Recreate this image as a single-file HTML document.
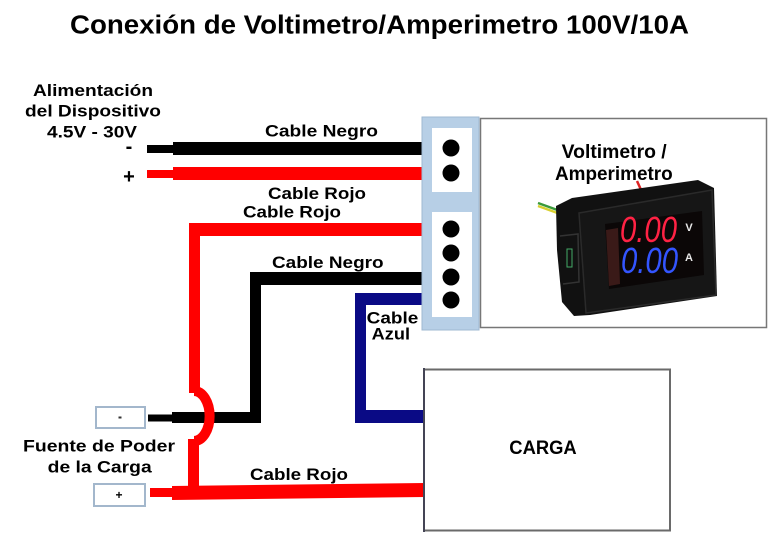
<!DOCTYPE html>
<html><head><meta charset="utf-8"><style>
html,body{margin:0;padding:0;background:#fff;}
svg{display:block;}
text{font-family:"Liberation Sans",Arial,sans-serif;font-weight:bold;fill:#000;}
</style></head><body>
<svg width="784" height="534" viewBox="0 0 784 534" xmlns="http://www.w3.org/2000/svg">
<rect width="784" height="534" fill="#fff"/>

<!-- Title -->
<text x="70" y="33.5" font-size="25.5" textLength="619" lengthAdjust="spacingAndGlyphs">Conexión de Voltimetro/Amperimetro 100V/10A</text>

<!-- Alimentacion labels -->
<text x="33" y="96" font-size="17" textLength="120" lengthAdjust="spacingAndGlyphs">Alimentación</text>
<text x="25" y="116.7" font-size="17" textLength="136" lengthAdjust="spacingAndGlyphs">del Dispositivo</text>
<text x="47" y="137.5" font-size="17" textLength="90" lengthAdjust="spacingAndGlyphs">4.5V - 30V</text>
<text x="129" y="153" font-size="20" text-anchor="middle">-</text>
<text x="129" y="183" font-size="20" text-anchor="middle">+</text>

<!-- Top wires -->
<rect x="147" y="145" width="28" height="8" fill="#000"/>
<rect x="173" y="142" width="270" height="13" fill="#000"/>
<rect x="147" y="170" width="28" height="8" fill="#f00"/>
<rect x="173" y="167" width="270" height="13" fill="#f00"/>

<!-- Black wire 2 -->
<rect x="250" y="272" width="193" height="13" fill="#000"/>
<rect x="250" y="272" width="11" height="151" fill="#000"/>
<rect x="172" y="412" width="89" height="11" fill="#000"/>
<rect x="148" y="414.5" width="26" height="7" fill="#000"/>

<!-- Blue wire -->
<rect x="355" y="293" width="88" height="12" fill="#0a0a85"/>
<rect x="355" y="293" width="11" height="130" fill="#0a0a85"/>
<rect x="355" y="410" width="70" height="13" fill="#0a0a85"/>

<!-- Red wire long -->
<rect x="189" y="223" width="254" height="13" fill="#f00"/>
<rect x="189" y="223" width="11" height="170" fill="#f00"/>
<rect x="188" y="439" width="11" height="54" fill="#f00"/>
<path d="M194,391 A15 24 0 0 1 194,441" fill="none" stroke="#f00" stroke-width="10"/>
<polygon points="172,486 425,483 425,497 172,500" fill="#f00"/>
<rect x="150" y="488" width="24" height="9" fill="#f00"/>

<!-- Terminal block -->
<rect x="422" y="117" width="57" height="213" fill="#b7cfe6" stroke="#9fb8d2" stroke-width="1"/>
<rect x="432" y="128" width="40" height="64" fill="#fff"/>
<rect x="432" y="212" width="40" height="105" fill="#fff"/>
<g fill="#000">
<circle cx="451" cy="148" r="8.5"/>
<circle cx="451" cy="173" r="8.5"/>
<circle cx="451" cy="229" r="8.5"/>
<circle cx="451" cy="253" r="8.5"/>
<circle cx="451" cy="277" r="8.5"/>
<circle cx="451" cy="300" r="8.5"/>
</g>

<!-- Meter box -->
<rect x="480.5" y="118.5" width="286" height="209" fill="#fff" stroke="#777" stroke-width="1.5"/>
<text x="561.7" y="158" font-size="19" textLength="105" lengthAdjust="spacingAndGlyphs">Voltimetro /</text>
<text x="555" y="180" font-size="19" textLength="117.7" lengthAdjust="spacingAndGlyphs">Amperimetro</text>

<!-- Meter photo approximation -->
<line x1="637" y1="181" x2="642" y2="192" stroke="#d22" stroke-width="2.5"/>
<line x1="538" y1="203" x2="563" y2="212" stroke="#3a9a3a" stroke-width="2.5"/>
<line x1="538" y1="206" x2="563" y2="215" stroke="#d8d030" stroke-width="2.5"/>
<polygon points="556,206 572,198 698,180 714,188 717,296 590,315 574,316 562,302 557,250" fill="#111"/>
<polygon points="579,213 712,190 716,295 586,313" fill="#161616" stroke="#2a2a2a" stroke-width="1.5"/>
<polygon points="605,224 702,211 704,275 609,289" fill="#0b0707"/>
<polygon points="606,230 618,228 620,284 609,286" fill="#3a1a18"/>
<rect x="567" y="249" width="5" height="18" fill="none" stroke="#4a6" stroke-width="1"/>
<path d="M560,236 L578,234 L579,282 L563,284" fill="none" stroke="#333" stroke-width="1.5"/>
<text x="620" y="242" font-size="36" font-weight="normal" font-style="italic" textLength="57" lengthAdjust="spacingAndGlyphs" style="fill:#ff2244;font-weight:normal">0.00</text>
<text x="621" y="273" font-size="36" font-weight="normal" font-style="italic" textLength="57" lengthAdjust="spacingAndGlyphs" style="fill:#3355ff;font-weight:normal">0.00</text>
<text x="689" y="231" font-size="11" text-anchor="middle" style="fill:#e8e8e8">V</text>
<text x="689" y="261" font-size="11" text-anchor="middle" style="fill:#e8e8e8">A</text>

<!-- Cable labels -->
<text x="265" y="136.5" font-size="16.5" textLength="113" lengthAdjust="spacingAndGlyphs">Cable Negro</text>
<text x="268" y="199" font-size="17" textLength="98" lengthAdjust="spacingAndGlyphs">Cable Rojo</text>
<text x="243" y="217.5" font-size="17" textLength="98" lengthAdjust="spacingAndGlyphs">Cable Rojo</text>
<text x="272" y="268" font-size="16.5" textLength="111.6" lengthAdjust="spacingAndGlyphs">Cable Negro</text>
<text x="366.7" y="323.3" font-size="17" textLength="51.6" lengthAdjust="spacingAndGlyphs">Cable</text>
<text x="371.7" y="339.3" font-size="17" textLength="38.3" lengthAdjust="spacingAndGlyphs">Azul</text>

<!-- Power source boxes -->
<rect x="96" y="407" width="49" height="21" fill="#fff" stroke="#a3b7cc" stroke-width="2"/>
<rect x="118.5" y="416.5" width="3" height="2" fill="#333"/>
<rect x="94" y="484" width="51" height="22" fill="#fff" stroke="#a3b7cc" stroke-width="2"/>
<text x="119" y="499" font-size="12" text-anchor="middle">+</text>
<text x="23" y="451.7" font-size="17" textLength="152" lengthAdjust="spacingAndGlyphs">Fuente de Poder</text>
<text x="47.7" y="472.7" font-size="17" textLength="104" lengthAdjust="spacingAndGlyphs">de la Carga</text>
<text x="250" y="480" font-size="17" textLength="98" lengthAdjust="spacingAndGlyphs">Cable Rojo</text>

<!-- CARGA box -->
<rect x="424" y="369.5" width="246" height="161" fill="#fff" stroke="#6a6a6a" stroke-width="2"/>
<line x1="424" y1="368" x2="424" y2="532" stroke="#445" stroke-width="2"/>
<text x="509.3" y="454" font-size="19" textLength="67.4" lengthAdjust="spacingAndGlyphs">CARGA</text>
</svg>
</body></html>
